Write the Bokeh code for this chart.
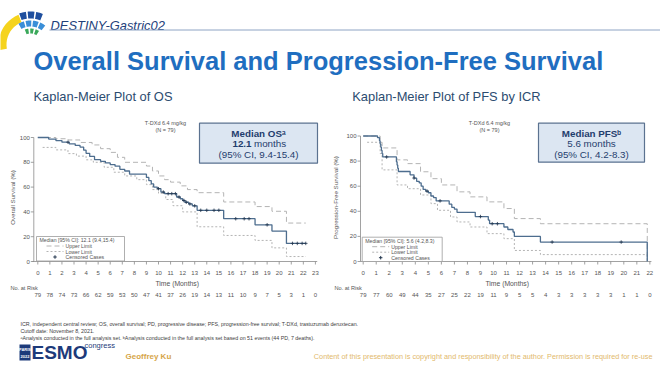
import numpy as np
from bokeh.plotting import figure
from bokeh.models import Range1d
from bokeh.embed import file_html
from bokeh.resources import INLINE
from bokeh.core.properties import value

# ---------------- data ----------------
months_os = list(range(24))
months_pfs = list(range(23))
y_ticks = [0, 20, 40, 60, 80, 100]
at_risk_os = [79, 78, 74, 73, 66, 62, 59, 53, 50, 47, 41, 37, 26, 19, 14, 13, 11, 10, 9, 7, 5, 3, 1, 0]
at_risk_pfs = [79, 77, 60, 49, 44, 35, 27, 25, 22, 19, 11, 9, 5, 5, 4, 3, 3, 3, 3, 3, 1, 1, 0]

# Overall survival KM estimate (step change times / levels, %)
os_t = [0, 0.9, 1.5, 2.0, 2.6, 3.1, 3.5, 3.8, 4.0, 4.3, 4.7, 5.2, 5.6, 6.0, 6.4, 6.8, 7.2, 7.6,
        9.0, 9.2, 9.4, 9.6, 9.9, 10.2, 10.5, 11.5, 11.8, 12.0, 12.2, 12.5, 12.8, 13.2, 15.4,
        18.0, 19.4, 20.6]
os_s = [100, 98.7, 97.5, 96.2, 94.9, 93.6, 92.3, 89.8, 87.2, 84.7, 82.1, 80.8, 79.5, 78.2, 76.9,
        74.3, 73.0, 70.4, 67.8, 65.2, 62.6, 60.0, 58.7, 56.0, 54.7, 52.0, 50.6, 49.2, 47.8, 46.4,
        44.9, 41.3, 34.5, 29.6, 24.5, 14.6]
os_end = 22.2
os_up_t = [0, 1.5, 2.5, 3.5, 4.5, 5.2, 6.0, 6.6, 7.2, 9.0, 9.5, 10.0, 10.5, 11.0, 11.8, 12.4, 13.2,
           15.4, 18.0, 19.4, 20.6]
os_up_s = [100, 99.0, 98.0, 96.0, 94.0, 91.0, 88.0, 84.0, 80.0, 77.0, 73.0, 69.0, 66.0, 64.0, 61.0,
           58.0, 55.5, 48.0, 44.3, 40.5, 31.0]
os_lo_t = [0.4, 1.5, 2.5, 3.2, 4.0, 4.6, 5.5, 6.3, 7.2, 8.2, 9.0, 9.5, 10.0, 10.6, 11.2, 12.0, 13.2,
           15.4, 18.0, 19.4, 20.6]
os_lo_s = [92, 90, 87, 85, 82, 80, 76, 72, 69, 66, 62, 58, 55, 50, 45, 40, 28, 21, 17, 11, 4]
os_cens = [2.5, 10.0, 10.4, 10.8, 11.1, 11.4, 11.7, 12.1, 12.3, 12.6, 13.0, 13.5, 14.0, 14.6, 15.0,
           16.4, 17.1, 17.5, 19.0, 21.1, 21.5, 21.9, 22.2]

# Progression-free survival KM estimate
pfs_t = [0, 1.1, 1.25, 1.3, 1.35, 1.4, 1.45, 1.5, 2.55, 2.6, 2.65, 2.7, 3.6, 3.9, 4.1, 4.3, 4.45,
         4.6, 4.8, 5.0, 5.2, 5.4, 5.6, 6.6, 6.8, 7.0, 7.2, 8.6, 9.6, 9.7, 10.8, 11.1, 11.5, 11.6,
         13.6, 21.8]
pfs_s = [100, 98.7, 96.2, 93.6, 91.1, 88.5, 86.0, 83.3, 79.5, 76.9, 74.3, 71.7, 69.1, 66.5, 63.9,
         62.6, 60.0, 57.4, 56.1, 54.8, 52.2, 50.9, 48.3, 45.7, 43.1, 41.8, 39.2, 35.8, 33.0, 30.1,
         27.5, 25.5, 23.5, 20.0, 15.5, 0]
pfs_end = 21.8
pfs_up_t = [0, 1.3, 1.45, 2.6, 3.4, 4.4, 5.2, 6.0, 7.2, 8.2, 9.5, 10.8, 11.6, 13.6, 21.8]
pfs_up_s = [100, 95, 90.5, 81, 78, 71.5, 66, 61, 55.5, 51.5, 47.5, 42.2, 34.2, 30.1, 0]
pfs_lo_t = [0.3, 1.3, 1.45, 2.6, 3.4, 4.4, 5.2, 5.7, 6.7, 7.2, 8.2, 9.5, 10.8, 11.6, 13.6, 21.8]
pfs_lo_s = [95, 86, 73, 61, 58, 53, 46.1, 40.8, 35.5, 31.5, 27.5, 22.2, 18.2, 8.8, 5.5, 0]
pfs_cens = [1.8, 3.9, 4.9, 5.9, 9.0, 9.9, 10.3, 14.5, 19.8]

# ---------------- figure ----------------
W, H, M = 660, 371, 0
FONT = "Liberation Sans"
CURVE = "#4d6d8e"
CI = "#b4b4b4"
AXC = "#8a8a8a"
TXT = "#555555"

p = figure(width=W, height=H, x_range=Range1d(M, M + W), y_range=Range1d(M + H, M),
           output_backend="svg", toolbar_location=None, min_border=0,
           x_axis_location=None, y_axis_location=None, outline_line_color=None)
p.grid.visible = False
p.background_fill_color = "white"
p.border_fill_color = "white"


def txt(x, y, s, size, color=TXT, bold=False, italic=False, align="left",
        baseline="middle", angle=0, font=FONT, **kw):
    style = "bold italic" if (bold and italic) else "bold" if bold else "italic" if italic else "normal"
    xs = x if isinstance(x, list) else [x]
    n = len(xs)
    ys = y if isinstance(y, list) else [y] * n
    ss = s if isinstance(s, list) else [s] * n
    p.text(x=xs, y=ys, text=ss, text_font=value(font), text_font_size=f"{size}px",
           text_color=color, text_font_style=style, text_align=align,
           text_baseline=baseline, angle=angle, **kw)


def step_xy(t, s, end):
    return list(t) + [end], list(s) + [s[-1]]


def level_at(t, s, c):
    idx = np.searchsorted(np.array(t), np.array(c), side="right") - 1
    return [s[i] for i in idx]


# ---------------- header ----------------
cx, cy = 30, 44
def arc_poly(r0, r1, a0, a1):
    a = np.linspace(np.radians(a0), np.radians(a1), 12)
    xs = list(cx + r1 * np.cos(a)) + list(cx + r0 * np.cos(a[::-1]))
    ys = list(cy - r1 * np.sin(a)) + list(cy - r0 * np.sin(a[::-1]))
    return xs, ys

polys, cols = [], []
polys.append(arc_poly(24, 32, 112, 190)); cols.append("#f5d31d")
for a0 in (68, 83, 98):
    polys.append(arc_poly(26, 33, a0, a0 + 12)); cols.append("#1f4f9e")
for a0 in (52, 70, 88, 106):
    polys.append(arc_poly(18, 24, a0, a0 + 14)); cols.append("#3a8fd8")
for a0 in (58, 78, 98):
    polys.append(arc_poly(11, 16, a0, a0 + 13)); cols.append("#3aa85a")
p.patches(xs=[q[0] for q in polys], ys=[q[1] for q in polys], fill_color=cols, line_color=None)

txt(50, 24.5, "DESTINY-Gastric02", 12.9, color="#22407a", italic=True, baseline="alphabetic")
p.segment(x0=[49], y0=[29.5], x1=[660], y1=[29.5], line_color="#8ea4c4", line_width=1)
txt(33, 60, "Overall Survival and Progression-Free Survival", 25.5, color="#1f6ec0",
    bold=True, baseline="alphabetic")

# ---------------- panels ----------------
panels = [
    dict(key="os", title="Kaplan-Meier Plot of OS", title_x=33, x0=37.3, ppm=12.07, y0=261.0, ppp=1.24,
         axis_x=33.3, axis_lo=-0.45, axis_hi=23.15, months=months_os, at_risk=at_risk_os,
         t=os_t, s=os_s, end=os_end, ut=os_up_t, us=os_up_s, lt=os_lo_t, ls=os_lo_s,
         cens=os_cens, ylabel="Overall Survival (%)", ylabel_x=12,
         arm_x=165, box=(199, 317, 122.7, 162.7),
         box_lines=[("Median OSᵃ", True), (("12.1", "months"), None), ("(95% CI, 9.4-15.4)", False)],
         leg=(36, 124, 236, 260.5), leg_text="Median [95% CI]: 12.1 (9.4,15.4)",
         risk_x=10, xlab_x=176.7),
    dict(key="pfs", title="Kaplan-Meier Plot of PFS by ICR", title_x=351.7, x0=362.7, ppm=13.03, y0=261.0,
         ppp=1.255, axis_x=360.0, axis_lo=-0.22, axis_hi=22.12, months=months_pfs, at_risk=at_risk_pfs,
         t=pfs_t, s=pfs_s, end=pfs_end, ut=pfs_up_t, us=pfs_up_s, lt=pfs_lo_t, ls=pfs_lo_s,
         cens=pfs_cens, ylabel="Progression-Free Survival (%)", ylabel_x=335,
         arm_x=489, box=(538, 644, 122.7, 161.7),
         box_lines=[("Median PFSᵇ", True), ("5.6 months", False), ("(95% CI, 4.2-8.3)", False)],
         leg=(361.7, 441.7, 236.7, 261), leg_text="Median [95% CI]: 5.6 (4.2,8.3)",
         risk_x=334, xlab_x=506.7),
]

for d in panels:
    kx, ky = d["key"] + "_x", d["key"] + "_y"
    p.extra_x_ranges[kx] = Range1d((M - d["x0"]) / d["ppm"], (M + W - d["x0"]) / d["ppm"])
    p.extra_y_ranges[ky] = Range1d((d["y0"] - (M + H)) / d["ppp"], (d["y0"] - M) / d["ppp"])

    txt(d["title_x"], 96, d["title"], 12.9, color="#2c4c70")
    txt(d["arm_x"], 122.5, "T-DXd 6.4 mg/kg", 5.5, align="center")
    txt(d["arm_x"], 129.5, "(N = 79)", 5.5, align="center")

    # axes
    p.segment(x0=[d["axis_lo"]], y0=[d["y0"]], x1=[d["axis_hi"]], y1=[d["y0"]],
              x_range_name=kx, line_color=AXC, line_width=0.8)
    p.segment(x0=[d["axis_x"]], y0=[0], x1=[d["axis_x"]], y1=[100],
              y_range_name=ky, line_color=AXC, line_width=0.8)
    p.segment(x0=d["months"], y0=d["y0"], x1=d["months"], y1=d["y0"] + 3,
              x_range_name=kx, line_color=AXC, line_width=0.8)
    p.segment(x0=d["axis_x"] - 3, y0=y_ticks, x1=d["axis_x"], y1=y_ticks,
              y_range_name=ky, line_color=AXC, line_width=0.8)
    txt(d["months"], 272.5, [str(m) for m in d["months"]], 6, align="center", x_range_name=kx)
    p.text(x=d["axis_x"] - 4, y=y_ticks, text=[str(v) for v in y_ticks], y_range_name=ky,
           text_font=value(FONT), text_font_size="6px", text_color=TXT,
           text_align="right", text_baseline="middle")
    txt(d["xlab_x"], 282.5, "Time (Months)", 6.8, align="center")
    txt(d["risk_x"], 287.5, "No. at Risk", 5.6)
    txt(d["months"], 294.5, [str(v) for v in d["at_risk"]], 6, align="center", x_range_name=kx)
    txt(d["ylabel_x"], 197, d["ylabel"], 6.2, align="center", angle=np.pi / 2)

    # curves
    ux, uy = step_xy(d["ut"], d["us"], d["end"])
    p.step(ux, uy, mode="after", x_range_name=kx, y_range_name=ky,
           line_color=CI, line_width=1, line_dash="5 3")
    lx, ly = step_xy(d["lt"], d["ls"], d["end"])
    p.step(lx, ly, mode="after", x_range_name=kx, y_range_name=ky,
           line_color=CI, line_width=1, line_dash="2 2")
    mx, my = step_xy(d["t"], d["s"], d["end"])
    p.step(mx, my, mode="after", x_range_name=kx, y_range_name=ky,
           line_color=CURVE, line_width=1.3)
    p.scatter(d["cens"], level_at(d["t"], d["s"], d["cens"]), marker="cross", size=3.5,
              line_color="#22354d", line_width=0.8, x_range_name=kx, y_range_name=ky)

    # legend box
    l, r, tp, bt = d["leg"]
    p.quad(left=[l], right=[r], top=[tp], bottom=[bt], fill_color="white",
           line_color="#9a9a9a", line_width=0.8)
    txt(l + 3, tp + 3.5, d["leg_text"], 5.2)
    sx0, sx1, tx = l + 10, l + 27, l + 29
    p.segment(x0=[sx0], y0=[tp + 9.5], x1=[sx1], y1=[tp + 9.5], line_color=CI, line_dash="5 3")
    txt(tx, tp + 9.5, "Upper Limit", 5.2)
    p.segment(x0=[sx0], y0=[tp + 15], x1=[sx1], y1=[tp + 15], line_color=CI, line_dash="2 2")
    txt(tx, tp + 15, "Lower Limit", 5.2)
    p.scatter([(sx0 + sx1) / 2], [tp + 20.5], marker="cross", size=3.5, line_color="#22354d")
    txt(tx, tp + 20.5, "Censored Cases", 5.2)

    # median box
    bl, br, bt_, bb = d["box"]
    p.quad(left=[bl], right=[br], top=[bt_], bottom=[bb], fill_color="#dce6f2",
           line_color="#5b7290", line_width=1.2)
    bcx = (bl + br) / 2
    ys = [bt_ + 10, bt_ + 20.5, bt_ + 31]
    for (line, bold), yy in zip(d["box_lines"], ys):
        if isinstance(line, tuple):
            txt(bcx - 7, yy, line[0], 9.8, color="#1f3d6d", bold=True, align="right")
            txt(bcx - 4.5, yy, line[1], 9.8, color="#1f3d6d", align="left")
        else:
            txt(bcx, yy, line, 9.8, color="#1f3d6d", bold=bool(bold), align="center")

# ---------------- footer ----------------
foot = [
    "ICR, independent central review; OS, overall survival; PD, progressive disease; PFS, progression-free survival; T-DXd, trastuzumab deruxtecan.",
    "Cutoff date: November 8, 2021.",
    "ᵃAnalysis conducted in the full analysis set. ᵇAnalysis conducted in the full analysis set based on 51 events (44 PD, 7 deaths).",
]
txt([20, 20, 20], [323, 330, 337], foot, 5.3, color="#404040")

p.quad(left=[19], right=[30], top=[344], bottom=[360], fill_color="#1d3a7a", line_color=None)
txt(24.5, 349, "PARIS", 4.0, color="white", align="center", bold=True)
txt(24.5, 355.5, "2022", 4.0, color="white", align="center", bold=True)
txt(31, 352, "ESMO", 19, color="#1d3a7a", bold=True, baseline="middle")
txt(84, 344.5, "congress", 7.5, color="#1d3a7a", baseline="middle")
txt(125, 356, "Geoffrey Ku", 8, color="#d6a54a", bold=True)
txt(652, 356, "Content of this presentation is copyright and responsibility of the author. Permission is required for re-use",
    7.3, color="#e2b96c", align="right")

open("out.html", "w").write(file_html(p, INLINE))
